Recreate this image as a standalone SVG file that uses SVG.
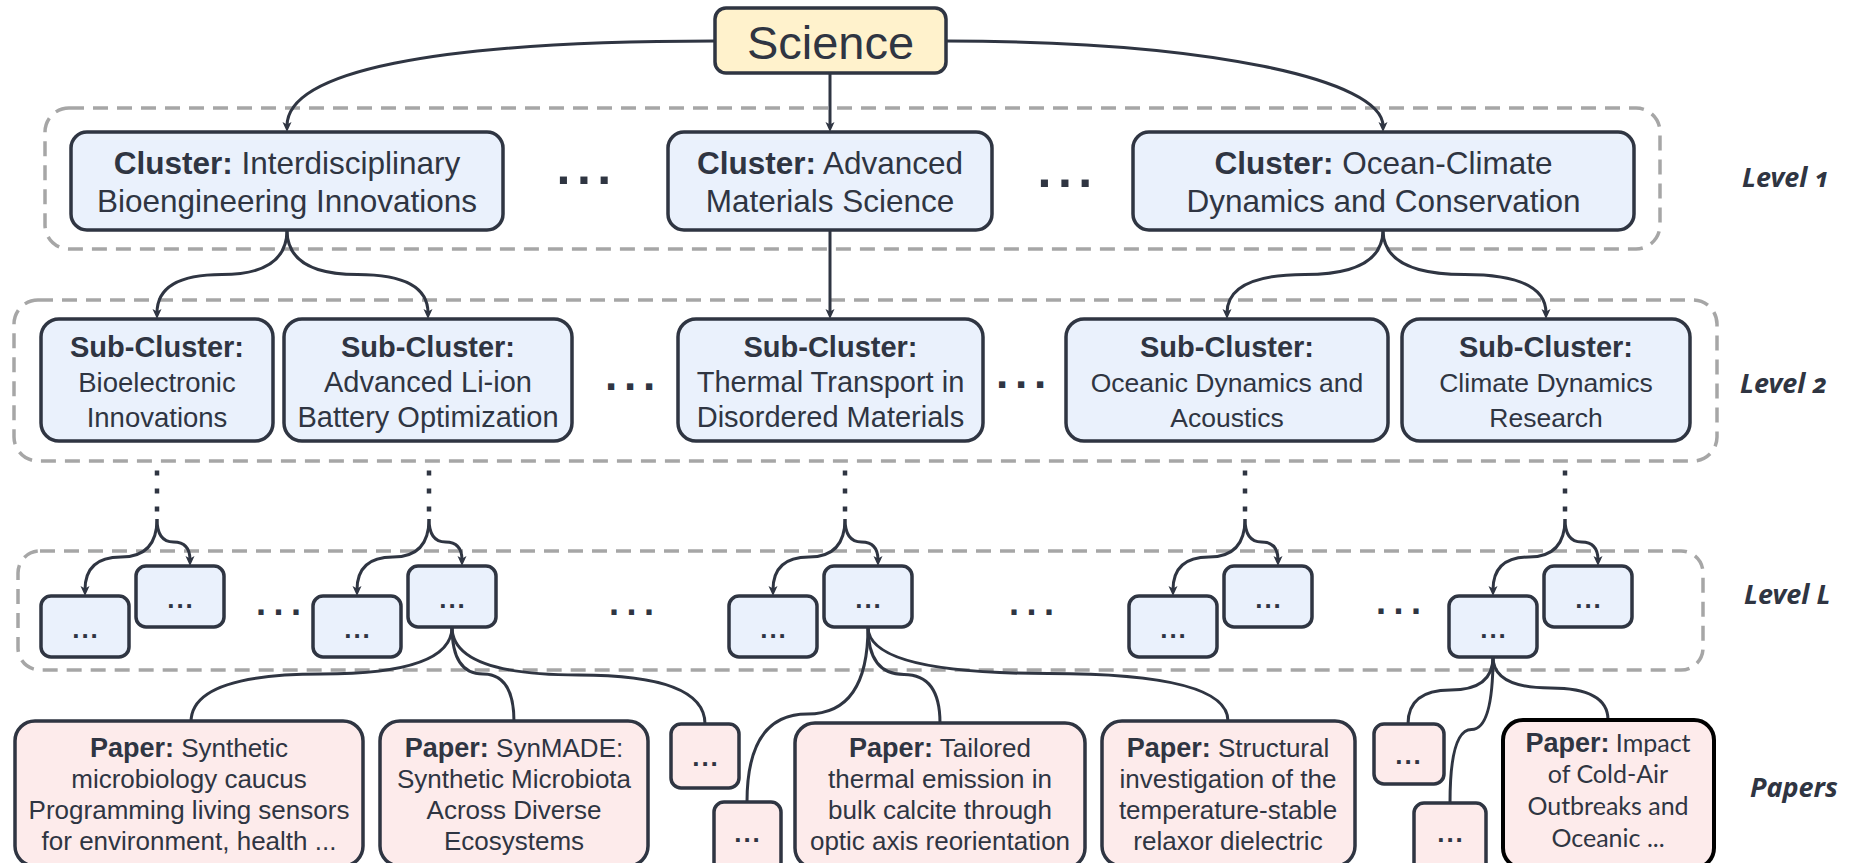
<svg xmlns="http://www.w3.org/2000/svg" width="1855" height="863" viewBox="0 0 1855 863">
  <defs>
    <marker id="arrow" viewBox="0 0 10 10" refX="4" refY="5" markerWidth="10" markerHeight="10" markerUnits="userSpaceOnUse" orient="auto">
      <path d="M0,0.5 L10,5 L0,9.5 L2.5,5 Z" fill="#2F3542"/>
    </marker>
  </defs>
  <style>
    .group { fill: none; stroke: #A6A6A6; stroke-width: 3.5; stroke-dasharray: 15 9; }
    .box { stroke: #2F3542; stroke-width: 3.5; }
    .root { fill: #FFF2CC; }
    .blue { fill: #EAF1FC; }
    .pink { fill: #FDEBEB; }
    .edge { fill: none; stroke: #2F3542; stroke-width: 3; }
    .dots { fill: none; stroke: #2F3542; stroke-width: 4.5; stroke-dasharray: 5 13; }
    text { font-family: "Liberation Sans", Arial, sans-serif; fill: #2F3542; }
    .c { text-anchor: middle; }
    .b { font-weight: bold; }
    .t-root { font-size: 47px; }
    .t-cl { font-size: 31.5px; }
    .t-sub { font-size: 27.5px; }
    .t-subl { font-size: 29px; }
    .t-subs { font-size: 26.5px; }
    .t-subh { font-size: 29px; font-weight: bold; }
    .t-pap { font-size: 26px; }
    .t-paph { font-size: 27px; font-weight: bold; }
    .t-alt { font-family: Lato, "Liberation Sans", sans-serif; font-size: 25px; }
    .ell { font-weight: bold; font-size: 26px; letter-spacing: 2px; }
    .gap1 { font-weight: bold; font-size: 50px; letter-spacing: 6.5px; }
    .gap2 { font-weight: bold; font-size: 44px; letter-spacing: 6.8px; }
    .gapL { font-weight: bold; font-size: 36px; letter-spacing: 7.5px; }
    .lvl { font-family: "Noto Sans", "Open Sans", sans-serif; font-style: italic; font-weight: bold; font-size: 27px; font-variant-numeric: oldstyle-nums; }
  </style>

  <!-- level frames -->
  <g id="frames">
    <rect class="group" x="45" y="108" width="1615" height="141" rx="24"/>
    <rect class="group" x="14" y="300" width="1703" height="161" rx="24"/>
    <rect class="group" x="18" y="551" width="1685" height="119" rx="22"/>
  </g>

  <!-- level labels -->
  <g id="labels">
    <text class="lvl" x="1742" y="187">Level 1</text>
    <text class="lvl" x="1740" y="393">Level 2</text>
    <text class="lvl" x="1744" y="604">Level  L</text>
    <text class="lvl" x="1750" y="797">Papers</text>
  </g>

  <!-- connectors -->
  <g id="connectors">
    <!-- root to level 1 -->
    <path class="edge" marker-end="url(#arrow)" d="M715,41 C430,41 287,72 287,126"/>
    <path class="edge" marker-end="url(#arrow)" d="M830,73 L830,126"/>
    <path class="edge" marker-end="url(#arrow)" d="M946,41 C1210,41 1383,80 1383,126"/>
    <!-- level 1 to level 2 -->
    <path class="edge" marker-end="url(#arrow)" d="M287,230 Q287,274.5 222,274.5 Q157,274.5 157,313"/>
    <path class="edge" marker-end="url(#arrow)" d="M287,230 Q287,274.5 357.5,274.5 Q428,274.5 428,313"/>
    <path class="edge" marker-end="url(#arrow)" d="M830,230 L830,313"/>
    <path class="edge" marker-end="url(#arrow)" d="M1383,230 Q1383,274.5 1305,274.5 Q1227,274.5 1227,313"/>
    <path class="edge" marker-end="url(#arrow)" d="M1383,230 Q1383,274.5 1464.5,274.5 Q1546,274.5 1546,313"/>
    <!-- elided intermediate levels -->
    <line class="dots" x1="157" y1="470.5" x2="157" y2="512"/>
    <line class="dots" x1="429" y1="470.5" x2="429" y2="512"/>
    <line class="dots" x1="845" y1="470.5" x2="845" y2="512"/>
    <line class="dots" x1="1245" y1="470.5" x2="1245" y2="512"/>
    <line class="dots" x1="1565" y1="470.5" x2="1565" y2="512"/>
    <!-- into level L -->
    <path class="edge" marker-end="url(#arrow)" d="M157,519 Q157,557 121,557 Q85,557 85,590"/>
    <path class="edge" marker-end="url(#arrow)" d="M157,519 Q157,542 173.5,542 Q190,542 190,560"/>
    <path class="edge" marker-end="url(#arrow)" d="M429,519 Q429,557 393,557 Q357,557 357,590"/>
    <path class="edge" marker-end="url(#arrow)" d="M429,519 Q429,542 445.5,542 Q462,542 462,560"/>
    <path class="edge" marker-end="url(#arrow)" d="M845,519 Q845,557 809,557 Q773,557 773,590"/>
    <path class="edge" marker-end="url(#arrow)" d="M845,519 Q845,542 861.5,542 Q878,542 878,560"/>
    <path class="edge" marker-end="url(#arrow)" d="M1245,519 Q1245,557 1209,557 Q1173,557 1173,590"/>
    <path class="edge" marker-end="url(#arrow)" d="M1245,519 Q1245,542 1261.5,542 Q1278,542 1278,560"/>
    <path class="edge" marker-end="url(#arrow)" d="M1565,519 Q1565,557 1529,557 Q1493,557 1493,590"/>
    <path class="edge" marker-end="url(#arrow)" d="M1565,519 Q1565,542 1581.5,542 Q1598,542 1598,560"/>
    <!-- level L to papers -->
    <path class="edge" d="M452,627 Q452,674 321.5,674 Q191,674 191,722"/>
    <path class="edge" d="M452,627 Q452,674 483,674 Q514,674 514,722"/>
    <path class="edge" d="M452,627 Q452,675 578.5,675 Q705,675 705,724"/>
    <path class="edge" d="M868,627 Q868,714 807.5,714 Q747,714 747,802"/>
    <path class="edge" d="M868,627 Q868,674.5 904,674.5 Q940,674.5 940,723"/>
    <path class="edge" d="M868,627 Q868,673.5 1048,673.5 Q1228,673.5 1228,721"/>
    <path class="edge" d="M1493,657 Q1493,690 1450.5,690 Q1408,690 1408,724"/>
    <path class="edge" d="M1493,657 Q1493,729.5 1471.5,729.5 Q1450,729.5 1450,803"/>
    <path class="edge" d="M1493,657 Q1493,688 1550.5,688 Q1608,688 1608,720"/>
  </g>

  <!-- gaps between siblings -->
  <g id="gaps">
    <text class="gap1" x="556.5" y="184">...</text>
    <text class="gap1" x="1037.5" y="187">...</text>
    <text class="gap2" x="605" y="390">...</text>
    <text class="gap2" x="996" y="388">...</text>
    <text class="gapL" x="256" y="614.5">...</text>
    <text class="gapL" x="609" y="614.5">...</text>
    <text class="gapL" x="1009" y="614.5">...</text>
    <text class="gapL" x="1376" y="613.5">...</text>
  </g>

  <!-- root -->
  <g id="science">
    <rect class="box root" x="715" y="8" width="231" height="65" rx="11"/>
    <text class="c t-root" x="830.5" y="59">Science</text>
  </g>

  <!-- level 1 clusters -->
  <g id="cluster-bio">
    <rect class="box blue" x="71" y="132" width="432" height="98" rx="16"/>
    <text class="c t-cl" x="287" y="174"><tspan class="b">Cluster:</tspan> Interdisciplinary</text>
    <text class="c t-cl" x="287" y="212">Bioengineering Innovations</text>
  </g>
  <g id="cluster-materials">
    <rect class="box blue" x="668" y="132" width="324" height="98" rx="16"/>
    <text class="c t-cl" x="830" y="174"><tspan class="b">Cluster:</tspan> Advanced</text>
    <text class="c t-cl" x="830" y="212">Materials Science</text>
  </g>
  <g id="cluster-ocean">
    <rect class="box blue" x="1133" y="132" width="501" height="98" rx="16"/>
    <text class="c t-cl" x="1383.5" y="174"><tspan class="b">Cluster:</tspan> Ocean-Climate</text>
    <text class="c t-cl" x="1383.5" y="212">Dynamics and Conservation</text>
  </g>

  <!-- level 2 sub-clusters -->
  <g id="sub-bioelectronic">
    <rect class="box blue" x="41" y="319" width="232" height="122" rx="18"/>
    <text class="c t-subh" x="157" y="357">Sub-Cluster:</text>
    <text class="c t-sub" x="157" y="392">Bioelectronic</text>
    <text class="c t-sub" x="157" y="427">Innovations</text>
  </g>
  <g id="sub-battery">
    <rect class="box blue" x="284" y="319" width="288" height="122" rx="18"/>
    <text class="c t-subh" x="428" y="357">Sub-Cluster:</text>
    <text class="c t-subl" x="428" y="392">Advanced Li-ion</text>
    <text class="c t-subl" x="428" y="427">Battery Optimization</text>
  </g>
  <g id="sub-thermal">
    <rect class="box blue" x="678" y="319" width="305" height="122" rx="18"/>
    <text class="c t-subh" x="830.5" y="357">Sub-Cluster:</text>
    <text class="c t-subl" x="830.5" y="392">Thermal Transport in</text>
    <text class="c t-subl" x="830.5" y="427">Disordered Materials</text>
  </g>
  <g id="sub-oceanic">
    <rect class="box blue" x="1066" y="319" width="322" height="122" rx="18"/>
    <text class="c t-subh" x="1227" y="357">Sub-Cluster:</text>
    <text class="c t-subs" x="1227" y="392">Oceanic Dynamics and</text>
    <text class="c t-subs" x="1227" y="427">Acoustics</text>
  </g>
  <g id="sub-climate">
    <rect class="box blue" x="1402" y="319" width="288" height="122" rx="18"/>
    <text class="c t-subh" x="1546" y="357">Sub-Cluster:</text>
    <text class="c t-subs" x="1546" y="392">Climate Dynamics</text>
    <text class="c t-subs" x="1546" y="427">Research</text>
  </g>

  <!-- level L leaves (lower box left, upper box right) -->
  <g id="leaf-a1"><rect class="box blue" x="41" y="596" width="88" height="61" rx="10"/><text class="c ell" x="86" y="638">...</text></g>
  <g id="leaf-a2"><rect class="box blue" x="136" y="566" width="88" height="61" rx="10"/><text class="c ell" x="181" y="608">...</text></g>
  <g id="leaf-b1"><rect class="box blue" x="313" y="596" width="88" height="61" rx="10"/><text class="c ell" x="358" y="638">...</text></g>
  <g id="leaf-b2"><rect class="box blue" x="408" y="566" width="88" height="61" rx="10"/><text class="c ell" x="453" y="608">...</text></g>
  <g id="leaf-c1"><rect class="box blue" x="729" y="596" width="88" height="61" rx="10"/><text class="c ell" x="774" y="638">...</text></g>
  <g id="leaf-c2"><rect class="box blue" x="824" y="566" width="88" height="61" rx="10"/><text class="c ell" x="869" y="608">...</text></g>
  <g id="leaf-d1"><rect class="box blue" x="1129" y="596" width="88" height="61" rx="10"/><text class="c ell" x="1174" y="638">...</text></g>
  <g id="leaf-d2"><rect class="box blue" x="1224" y="566" width="88" height="61" rx="10"/><text class="c ell" x="1269" y="608">...</text></g>
  <g id="leaf-e1"><rect class="box blue" x="1449" y="596" width="88" height="61" rx="10"/><text class="c ell" x="1494" y="638">...</text></g>
  <g id="leaf-e2"><rect class="box blue" x="1544" y="566" width="88" height="61" rx="10"/><text class="c ell" x="1589" y="608">...</text></g>

  <!-- papers -->
  <g id="paper-synthetic">
    <rect class="box pink" x="15" y="721" width="348" height="145" rx="20"/>
    <text class="c t-pap" x="189" y="757"><tspan class="t-paph">Paper:</tspan> Synthetic</text>
    <text class="c t-pap" x="189" y="788">microbiology caucus</text>
    <text class="c t-pap" x="189" y="819">Programming living sensors</text>
    <text class="c t-pap" x="189" y="850">for environment, health ...</text>
  </g>
  <g id="paper-synmade">
    <rect class="box pink" x="380" y="721" width="268" height="145" rx="20"/>
    <text class="c t-pap" x="514" y="757"><tspan class="t-paph">Paper:</tspan> SynMADE:</text>
    <text class="c t-pap" x="514" y="788">Synthetic Microbiota</text>
    <text class="c t-pap" x="514" y="819">Across Diverse</text>
    <text class="c t-pap" x="514" y="850">Ecosystems</text>
  </g>
  <g id="paper-more-1"><rect class="box pink" x="671" y="724" width="68" height="64" rx="10"/><text class="c ell" x="706" y="766">...</text></g>
  <g id="paper-more-2"><rect class="box pink" x="714" y="802" width="67" height="70" rx="10"/><text class="c ell" x="748" y="842">...</text></g>
  <g id="paper-calcite">
    <rect class="box pink" x="795" y="723" width="290" height="145" rx="20"/>
    <text class="c t-pap" x="940" y="757"><tspan class="t-paph">Paper:</tspan> Tailored</text>
    <text class="c t-pap" x="940" y="788">thermal emission in</text>
    <text class="c t-pap" x="940" y="819">bulk calcite through</text>
    <text class="c t-pap" x="940" y="850">optic axis reorientation</text>
  </g>
  <g id="paper-relaxor">
    <rect class="box pink" x="1102" y="721" width="253" height="145" rx="20"/>
    <text class="c t-pap" x="1228" y="757"><tspan class="t-paph">Paper:</tspan> Structural</text>
    <text class="c t-pap" x="1228" y="788">investigation of the</text>
    <text class="c t-pap" x="1228" y="819">temperature-stable</text>
    <text class="c t-pap" x="1228" y="850">relaxor dielectric</text>
  </g>
  <g id="paper-more-3"><rect class="box pink" x="1374" y="724" width="70" height="60" rx="10"/><text class="c ell" x="1409" y="764">...</text></g>
  <g id="paper-more-4"><rect class="box pink" x="1414" y="803" width="72" height="70" rx="10"/><text class="c ell" x="1451" y="842">...</text></g>
  <g id="paper-coldair">
    <rect class="pink" x="1503" y="720" width="211" height="148" rx="20" stroke="#000" stroke-width="4"/>
    <text class="c" x="1608" y="752"><tspan class="t-paph">Paper:</tspan><tspan class="t-alt"> Impact</tspan></text>
    <text class="c t-alt" x="1608" y="783">of Cold-Air</text>
    <text class="c t-alt" x="1608" y="815">Outbreaks and</text>
    <text class="c t-alt" x="1608" y="847">Oceanic ...</text>
  </g>
</svg>
